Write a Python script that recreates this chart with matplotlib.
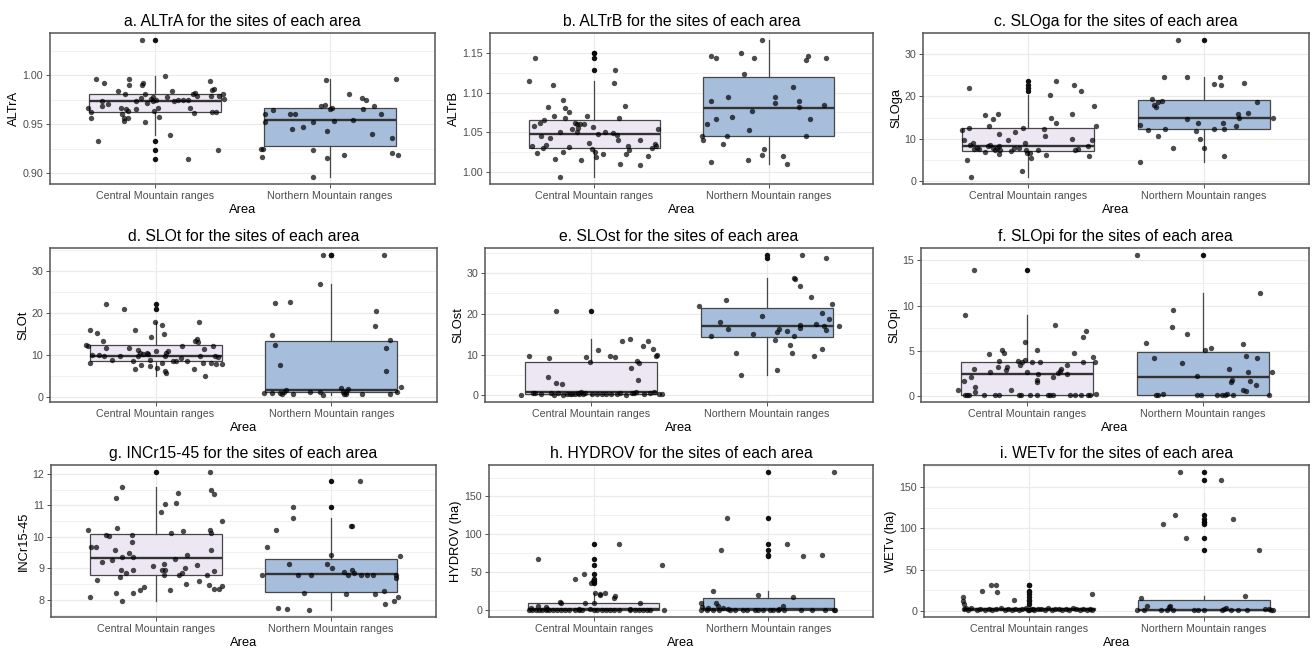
"""
Site variables by mountain area: boxplots with jittered sites (3x3 panels)
"""

import numpy as np
import matplotlib
matplotlib.use("Agg")
import matplotlib.pyplot as plt
from matplotlib.ticker import MultipleLocator, FormatStrFormatter

plt.rcParams["font.family"] = ["Liberation Sans", "DejaVu Sans"]

AREAS = ["Central Mountain ranges", "Northern Mountain ranges"]
FILLS = ["#ECE7F2", "#A6BDDB"]

# values; *_JIT = horizontal jitter of each site (category units)
# *_BOX = [q1, median, q3, lower whisker, upper whisker] per area

# a. ALTrA
ALTRA_C = [0.967, 0.962, 0.956, 0.996, 0.933, 0.974, 0.969, 0.971, 0.992, 0.984, 0.967, 0.960,
           0.956, 0.953, 0.981, 0.965, 0.956, 0.996, 0.990, 0.963, 0.974, 0.965, 0.977, 0.990,
           0.992, 1.036, 0.981, 0.952, 0.972, 0.976, 0.978, 0.974, 0.963, 0.975, 0.967, 0.957,
           0.999, 0.978, 0.939, 0.984, 0.974, 0.975, 0.975, 0.914, 0.975, 0.967, 0.981, 0.961,
           0.982, 0.979, 0.994, 0.979, 0.985, 0.962, 0.986, 0.962, 0.924, 0.979, 0.981, 0.976]
ALTRA_C_JIT = [-0.385, -0.366, -0.366, -0.335, -0.326, -0.30, -0.30, -0.27, -0.29, -0.21, -0.195, -0.19,
               -0.18, -0.175, -0.173, -0.168, -0.152, -0.15, -0.15, -0.152, -0.11, -0.11, -0.082, -0.076,
               -0.069, -0.072, -0.057, -0.057, -0.046, -0.025, -0.011, -0.011, -0.004, 0.004, 0.019, 0.023,
               0.055, 0.07, 0.086, 0.099, 0.108, 0.13, 0.16, 0.19, 0.19, 0.20, 0.217, 0.222,
               0.23, 0.24, 0.316, 0.32, 0.328, 0.324, 0.337, 0.35, 0.362, 0.366, 0.389, 0.396]
ALTRA_N = [0.925, 0.925, 0.917, 0.960, 0.952, 0.964, 0.960, 0.945, 0.960, 0.947, 0.952, 0.924,
           0.969, 0.970, 0.995, 0.943, 0.916, 0.896, 0.965, 0.967, 0.953, 0.919, 0.981, 0.954,
           0.977, 0.975, 0.965, 0.940, 0.969, 0.960, 0.936, 0.921, 0.996, 0.919]
ALTRA_N_JIT = [-0.396, -0.383, -0.387, -0.371, -0.371, -0.326, -0.229, -0.215, -0.2, -0.152, -0.10, -0.095,
               -0.05, -0.03, -0.025, -0.02, -0.02, -0.10, 0.0, 0.013, 0.023, 0.08, 0.109, 0.131,
               0.185, 0.204, 0.19, 0.238, 0.251, 0.291, 0.352, 0.352, 0.375, 0.389]
ALTRA_BOX = [[0.962, 0.974, 0.981, 0.939, 0.999], [0.928, 0.954, 0.967, 0.896, 0.996]]

# b. ALTrB
ALTRB_C = [1.114, 1.0325, 1.058, 1.143, 1.024, 1.062, 1.045, 1.030, 1.065, 1.034, 1.082, 1.043,
           1.109, 1.070, 1.017, 1.051, 1.091, 1.080, 1.068, 1.075, 1.032, 1.054, 1.026, 1.062,
           1.061, 1.051, 1.055, 1.061, 1.016, 1.061, 1.070, 1.037, 1.029, 1.057, 1.149, 1.026,
           1.019, 1.048, 1.023, 1.050, 1.049, 1.112, 1.128, 1.047, 1.041, 1.068, 1.011, 1.083,
           1.023, 1.033, 1.028, 1.041, 1.009, 1.020, 1.030, 1.036, 1.033, 1.054, 0.994]
ALTRB_C_JIT = [-0.376, -0.36, -0.345, -0.34, -0.33, -0.315, -0.305, -0.297, -0.29, -0.28, -0.266, -0.253,
               -0.24, -0.23, -0.228, -0.2, -0.18, -0.17, -0.167, -0.148, -0.145, -0.13, -0.18, -0.114,
               -0.10, -0.10, -0.095, -0.082, -0.078, -0.059, -0.044, -0.034, -0.015, -0.006, 0.0, 0.004,
               0.008, 0.023, 0.047, 0.06, 0.108, 0.114, 0.118, 0.127, 0.133, 0.142, 0.148, 0.175,
               0.184, 0.194, 0.2, 0.264, 0.26, 0.307, 0.33, 0.345, 0.355, 0.364, -0.2]
ALTRB_N = [1.045, 1.040, 1.060, 1.146, 1.089, 1.013, 1.143, 1.067, 1.035, 1.045, 1.095, 1.069,
           1.149, 1.123, 1.016, 1.053, 1.077, 1.143, 1.022, 1.029, 1.166, 1.095, 1.087, 1.021,
           1.010, 1.107, 1.090, 1.082, 1.045, 1.141, 1.146, 1.067, 1.085, 1.143]
ALTRB_N_JIT = [-0.38, -0.374, -0.351, -0.328, -0.328, -0.328, -0.304, -0.304, -0.26, -0.241, -0.235, -0.209,
               -0.161, -0.139, -0.12, -0.114, -0.095, -0.082, -0.038, -0.028, -0.038, 0.036, 0.036, 0.085,
               0.108, 0.142, 0.175, 0.175, 0.214, 0.214, 0.228, 0.237, 0.317, 0.328]
ALTRB_BOX = [[1.030, 1.048, 1.065, 0.994, 1.114], [1.045, 1.080, 1.119, 1.010, 1.166]]

# c. SLOga
SLOGA_C = [12.0, 9.7, 4.9, 21.9, 12.6, 8.5, 0.9, 9.1, 7.5, 7.9, 7.5, 6.9, 15.5, 13.0, 8.4, 14.6,
           7.3, 7.9, 15.8, 11.0, 8.3, 7.3, 6.3, 9.7, 7.1, 7.9, 11.7, 2.4, 12.6, 9.1, 7.3, 6.7,
           6.5, 5.5, 7.3, 12.2, 10.7, 6.2, 20.4, 14.8, 13.6, 23.6, 15.8, 9.9, 22.6, 7.3, 7.5, 21.4,
           8.3, 5.9, 9.7, 17.8, 13.0, 7.7, 8.3, 7.7]
SLOGA_C_JIT = [-0.377, -0.367, -0.348, -0.335, -0.335, -0.331, -0.327, -0.316, -0.312, -0.293, -0.28, -0.248,
               -0.244, -0.225, -0.217, -0.2, -0.192, -0.18, -0.173, -0.166, -0.168, -0.16, -0.166, -0.114,
               -0.1, -0.082, -0.078, -0.034, -0.029, -0.021, -0.013, -0.006, 0.01, 0.013, 0.057, 0.09,
               0.095, 0.103, 0.122, 0.128, 0.156, 0.156, 0.248, 0.251, 0.262, 0.267, 0.284, 0.3,
               0.343, 0.347, 0.366, 0.375, 0.385, -0.053, -0.229, -0.2]
SLOGA_N = [4.5, 13.3, 12.0, 19.3, 17.9, 17.4, 18.6, 19.0, 10.7, 24.5, 12.4, 7.7, 33.4, 24.5, 14.6, 11.8,
           13.8, 9.9, 7.9, 12.4, 23.0, 24.6, 22.7, 13.6, 12.2, 5.9, 13.0, 15.9, 14.8, 23.3, 16.2, 18.8, 15.0]
SLOGA_N_JIT = [-0.364, -0.362, -0.316, -0.297, -0.282, -0.272, -0.259, -0.24, -0.263, -0.229, -0.221, -0.177,
               -0.149, -0.095, -0.097, -0.044, -0.034, -0.019, 0.0, 0.057, 0.061, 0.091, 0.10, 0.109,
               0.114, 0.114, 0.185, 0.194, 0.2, 0.232, 0.255, 0.305, 0.396]
SLOGA_BOX = [[7.1, 8.3, 12.6, 0.9, 20.4], [12.2, 15.0, 19.2, 4.5, 24.6]]

# d. SLOt
SLOT_C = [12.3, 12.2, 16.0, 8.1, 9.9, 15.2, 9.9, 13.4, 9.7, 11.6, 22.1, 8.7, 9.7, 20.8, 11.5, 8.5,
          16.0, 6.7, 11.1, 9.7, 10.5, 10.1, 10.5, 10.3, 8.7, 7.3, 14.2, 17.8, 11.0, 6.9, 8.1, 17.2,
          15.0, 9.7, 6.2, 10.5, 5.7, 11.0, 8.5, 8.5, 9.3, 12.2, 6.6, 13.4, 13.8, 13.0, 17.8, 9.7,
          8.0, 11.4, 5.0, 8.1, 12.2, 9.7, 7.7, 9.5, 7.9, 8.5, 7.5]
SLOT_C_JIT = [-0.398, -0.386, -0.373, -0.371, -0.364, -0.33, -0.323, -0.3, -0.292, -0.284, -0.284, -0.246,
              -0.201, -0.182, -0.15, -0.127, -0.117, -0.114, -0.102, -0.098, -0.091, -0.07, -0.051, -0.042,
              -0.032, -0.032, -0.027, -0.004, 0.004, 0.009, 0.034, 0.038, 0.047, 0.053, 0.053, 0.059,
              0.062, 0.072, 0.1, 0.116, 0.144, 0.153, 0.216, 0.223, 0.233, 0.239, 0.248, 0.252,
              0.267, 0.273, 0.28, 0.318, 0.326, 0.337, 0.341, 0.356, 0.379, 0.176, -0.08]
SLOT_N = [0.8, 0.8, 14.6, 22.3, 12.3, 0.8, 7.5, 0.6, 1.2, 1.6, 22.5, 0.6, 1.2, 27.0, 1.0, 0.4,
          33.8, 2.0, 1.1, 0.6, 1.2, 0.6, 1.8, 0.6, 16.8, 20.5, 33.8, 11.5, 6.2, 13.6, 0.6, 1.2, 2.4]
SLOT_N_JIT = [-0.384, -0.34, -0.337, -0.322, -0.322, -0.294, -0.292, -0.28, -0.269, -0.261, -0.237, -0.218,
              -0.123, -0.066, -0.066, -0.047, -0.047, 0.057, 0.066, 0.072, 0.081, 0.085, 0.095, 0.176,
              0.246, 0.252, 0.297, 0.311, 0.311, 0.33, 0.333, 0.375, 0.394]
SLOT_BOX = [[8.4, 9.8, 12.3, 5.0, 17.8], [1.0, 1.5, 13.4, 0.4, 27.0]]

# e. SLOst
SLOST_C = [0.1, 9.6, 0.5, 0.5, 4.6, 9.1, 0.7, 0.2, 20.6, 3.0, 0.5, 2.7, 0.2, 0.4, 0.4, 0.4,
           0.5, 0.8, 0.4, 0.7, 9.4, 8.3, 0.4, 11.1, 0.4, 0.4, 9.6, 9.4, 0.4, 0.7, 13.3, 0.2,
           13.9, 6.7, 0.7, 0.8, 8.4, 3.8, 7.9, 12.1, 0.4, 13.3, 11.3, 0.8, 9.6, 10.0, 0.4, 0.4,
           0.4, 0.4, 0.3, 0.4, 0.4, 0.7, 0.7]
SLOST_C_JIT = [-0.395, -0.35, -0.33, -0.314, -0.244, -0.237, -0.226, -0.21, -0.195, -0.195, -0.184, -0.165,
               -0.16, -0.135, -0.107, -0.09, -0.075, -0.053, -0.043, -0.032, -0.026, -0.004, 0.034, 0.041,
               0.062, 0.113, 0.109, 0.135, 0.147, 0.165, 0.179, 0.197, 0.222, 0.229, 0.244, 0.254,
               0.263, 0.269, 0.274, 0.297, 0.304, 0.323, 0.353, 0.357, 0.367, 0.376, 0.386, 0.404,
               -0.282, -0.12, -0.066, 0.009, 0.085, 0.231, 0.338]
SLOST_N = [22.0, 14.5, 17.9, 23.3, 16.2, 10.5, 5.0, 15.0, 19.4, 13.5, 15.5, 6.3, 16.3, 15.9, 12.3, 10.4,
           14.6, 28.7, 28.5, 26.8, 16.6, 17.3, 34.4, 24.2, 9.6, 17.5, 20.2, 11.3, 16.9, 33.6, 16.0, 18.7,
           22.5, 17.1]
SLOST_N_JIT = [-0.389, -0.318, -0.267, -0.233, -0.225, -0.176, -0.148, -0.079, -0.032, 0.047, 0.053, 0.056,
               0.068, 0.113, 0.132, 0.143, 0.152, 0.152, 0.158, 0.184, 0.188, 0.188, 0.197, 0.246,
               0.265, 0.278, 0.31, 0.312, 0.321, 0.331, 0.335, 0.35, 0.368, 0.406]
SLOST_BOX = [[0.3, 0.9, 8.3, 0.1, 13.9], [14.4, 16.9, 21.4, 5.0, 28.7]]

# f. SLOpi
SLOPI_C = [0.7, 1.6, 0.1, 0.1, 0.1, 9.0, 2.1, 3.0, 13.9, 1.0, 0.45, 0.1, 4.6, 2.7, 0.1, 0.1,
           3.2, 3.9, 5.1, 4.8, 2.9, 3.2, 0.6, 3.9, 0.1, 3.4, 0.1, 3.7, 6.0, 4.0, 2.7, 0.1,
           3.8, 5.1, 1.8, 1.5, 0.1, 2.4, 3.7, 0.1, 0.1, 0.1, 2.1, 7.8, 2.5, 2.8, 3.0, 3.4,
           2.4, 0.1, 4.7, 0.1, 0.1, 3.7, 6.5, 7.2, 0.1, 0.1, 4.3, 3.7, 0.2]
SLOPI_C_JIT = [-0.391, -0.357, -0.353, -0.34, -0.327, -0.353, -0.314, -0.301, -0.297, -0.295, -0.291, -0.244,
               -0.212, -0.207, -0.179, -0.16, -0.164, -0.16, -0.141, -0.128, -0.117, -0.111, -0.088, -0.051,
               -0.047, -0.038, -0.032, -0.028, -0.013, -0.009, 0.0, 0.019, 0.028, 0.055, 0.055, 0.06,
               0.06, 0.066, 0.075, 0.122, 0.132, 0.147, 0.15, 0.16, 0.175, 0.188, 0.194, 0.229,
               0.229, 0.244, 0.267, 0.273, 0.305, 0.318, 0.32, 0.338, 0.348, 0.357, 0.378, 0.385, 0.395]
SLOPI_N = [15.6, 5.9, 4.2, 0.1, 0.1, 0.25, 7.6, 9.5, 3.6, 6.9, 2.2, 0.1, 0.1, 5.1, 5.3, 0.1,
           0.1, 0.1, 0.2, 3.0, 1.5, 1.8, 0.1, 5.8, 0.7, 0.5, 4.4, 2.6, 1.6, 1.2, 4.2, 11.4, 0.1, 2.6]
SLOPI_N_JIT = [-0.374, -0.327, -0.28, -0.267, -0.254, -0.229, -0.179, -0.173, -0.122, -0.092, -0.036, -0.036,
               -0.013, 0.009, 0.043, 0.077, 0.109, 0.122, 0.137, 0.147, 0.16, 0.165, 0.169, 0.227,
               0.226, 0.244, 0.244, 0.256, 0.263, 0.297, 0.305, 0.32, 0.376, 0.391]
SLOPI_BOX = [[0.1, 2.4, 3.8, 0.1, 9.0], [0.1, 2.1, 4.9, 0.1, 11.4]]

# g. INCr15-45
INCR_C = [10.21, 8.10, 9.68, 9.68, 8.63, 9.20, 10.07, 10.02, 9.25, 9.57, 11.23, 8.20, 10.27, 8.72, 8.93, 7.95,
          11.58, 9.36, 8.85, 9.47, 9.84, 10.07, 8.20, 9.36, 8.93, 8.31, 8.40, 9.06, 10.80, 8.93, 9.14, 11.05,
          8.95, 8.80, 8.31, 10.11, 9.30, 11.07, 11.39, 8.80, 8.84, 10.18, 9.02, 8.50, 9.41, 9.09, 8.61, 8.79,
          8.48, 12.06, 10.21, 11.50, 10.11, 9.57, 11.36, 8.91, 8.34, 8.34, 8.42, 10.51]
INCR_C_JIT = [-0.389, -0.379, -0.37, -0.341, -0.337, -0.308, -0.287, -0.27, -0.251, -0.232, -0.23, -0.228,
              -0.224, -0.203, -0.201, -0.192, -0.192, -0.192, -0.169, -0.155, -0.138, -0.136, -0.134, -0.13,
              -0.13, -0.092, -0.067, -0.015, 0.029, 0.036, 0.046, 0.052, 0.052, 0.048, 0.082, 0.084,
              0.109, 0.113, 0.128, 0.132, 0.149, 0.153, 0.163, 0.172, 0.176, 0.234, 0.243, 0.291,
              0.305, 0.307, 0.31, 0.314, 0.316, 0.316, 0.333, 0.333, 0.333, 0.358, 0.377, 0.379]
INCR_N = [8.80, 9.66, 7.75, 10.21, 7.70, 9.12, 10.96, 10.59, 8.77, 8.20, 7.67, 8.77, 9.14, 9.41, 9.02, 8.88,
          8.79, 10.35, 10.35, 8.95, 8.84, 8.18, 11.76, 8.80, 8.80, 8.77, 8.18, 8.29, 7.86, 7.95, 8.77, 8.70,
          8.10, 9.39]
INCR_N_JIT = [-0.397, -0.364, -0.303, -0.316, -0.253, -0.239, -0.216, -0.215, -0.188, -0.157, -0.124, -0.115,
              -0.023, 0.0, 0.006, 0.077, 0.096, 0.115, 0.121, 0.121, 0.13, 0.086, 0.163, 0.172,
              0.207, 0.239, 0.253, 0.303, 0.31, 0.36, 0.37, 0.37, 0.383, 0.397]
INCR_BOX = [[8.80, 9.33, 10.08, 7.95, 11.58], [8.23, 8.82, 9.30, 7.67, 10.59]]

# h. HYDROV (ha)
HYDROV_C = [0.0, 0.5, 0.0, 0.0, 0.5, 0.0, 0.0, 0.5, 0.0, 0.0, 0.5, 0.0, 0.0, 0.5, 0.0, 0.5,
            0.0, 0.0, 0.5, 0.0, 0.0, 0.5, 0.0, 0.0, 0.5, 0.0, 0.5, 0.0, 0.0,
            2.7, 4.9, 3.6, 1.3, 10.2, 9.3, 9.3, 9.3, 21.3, 22.2, 20.0, 22.2, 15.5, 19.1, 9.3, 1.3,
            1.3, 1.3, 67.9, 41.3, 47.0, 87.9, 59.0, 38.2, 36.0]
HYDROV_C_JIT = [-0.368, -0.352, -0.333, -0.314, -0.295, -0.276, -0.257, -0.234, -0.21, -0.185, -0.162, -0.139,
                -0.105, -0.086, -0.067, 0.0, 0.019, 0.048, 0.072, 0.091, 0.114, 0.143, 0.21, 0.234,
                0.257, 0.28, 0.305, 0.32, 0.402,
                -0.362, -0.318, -0.272, -0.267, -0.196, -0.185, -0.048, 0.0, 0.038, 0.01, 0.034, 0.063,
                0.118, 0.124, 0.263, -0.086, -0.019, 0.21, -0.318, -0.105, -0.057, 0.143, 0.39, -0.006, -0.013]
HYDROV_N = [0.0, 0.0, 0.5, 0.0, 0.0, 0.5, 0.0, 0.0, 0.0, 0.5, 0.0, 0.0, 0.5, 0.0, 0.0, 0.0,
            0.5, 0.0, 0.0, 0.0, 8.9, 3.6, 2.2, 9.3, 5.8, 2.2, 1.3, 25.7, 20.4, 5.8, 17.8, 1.3,
            79.9, 122.1, 86.6, 71.5, 72.3, 182.4]
HYDROV_N_JIT = [-0.384, -0.35, -0.314, -0.283, -0.22, -0.19, -0.143, -0.12, -0.076, -0.057, -0.03, 0.01,
                0.028, 0.057, 0.09, 0.188, 0.25, 0.325, 0.377, 0.383, -0.387, -0.381, -0.343, -0.299,
                -0.286, -0.261, -0.232, -0.318, -0.057, 0.082, 0.139, 0.063,
                -0.272, -0.236, 0.105, 0.2, 0.31, 0.377]
HYDROV_BOX = [[0.0, 1.0, 9.5, 0.0, 22.2], [0.0, 1.3, 16.0, 0.0, 25.7]]

# i. WETv (ha)
WETV_C = [2.5, 1.5, 3.0, 1.0, 2.0, 1.5, 2.5, 1.0, 2.0, 3.0, 1.5, 2.0, 1.0, 2.5, 1.5, 2.0,
          3.5, 1.0, 2.0, 1.5, 2.5, 2.0, 1.0, 3.0, 1.5, 2.0, 2.5, 1.0, 2.0, 1.5, 3.0, 2.0,
          1.0, 2.5, 1.5, 2.0, 1.0, 3.0, 2.0, 1.5,
          16.5, 12.0, 8.5, 24.5, 31.3, 31.3, 23.2, 13.4, 20.4]
WETV_C_JIT = [-0.37, -0.35, -0.33, -0.30, -0.28, -0.25, -0.23, -0.21, -0.19, -0.16, -0.14, -0.12,
              -0.10, -0.08, -0.06, -0.04, -0.02, 0.0, 0.02, 0.03, 0.05, 0.07, 0.09, 0.11,
              0.13, 0.15, 0.17, 0.19, 0.21, 0.23, 0.25, 0.27, 0.29, 0.31, 0.33, 0.35,
              0.36, -0.36, 0.01, -0.005,
              -0.38, -0.378, -0.372, -0.27, -0.218, -0.188, -0.184, -0.084, 0.36]
WETV_N = [0.8, 15.5, 0.8, 6.1, 0.8, 0.8, 4.1, 6.1, 0.8, 0.8, 0.8, 0.8, 2.0, 3.3, 0.8, 0.8,
          18.3, 0.8, 2.0, 2.0, 0.8, 0.8, 0.8,
          104.8, 116.2, 168.4, 88.5, 159.0, 110.9, 74.2, 108.0]
WETV_N_JIT = [-0.385, -0.36, -0.345, -0.323, -0.243, -0.214, -0.2, -0.193, -0.175, -0.057, -0.034, 0.104,
              0.114, 0.127, 0.157, 0.194, 0.233, 0.243, 0.351, 0.37, 0.385, 0.393, 0.0,
              -0.233, -0.165, -0.137, -0.101, 0.097, 0.167, 0.317, 0.0]
WETV_BOX = [[1.5, 2.0, 3.0, 1.0, 3.5], [0.8, 0.8, 13.5, 0.8, 18.3]]

# title, y label, data, box stats, major y step, tick format
PANELS = [
    ("a. ALTrA", "ALTrA", ALTRA_C, ALTRA_C_JIT, ALTRA_N, ALTRA_N_JIT, ALTRA_BOX, 0.05, "%.2f"),
    ("b. ALTrB", "ALTrB", ALTRB_C, ALTRB_C_JIT, ALTRB_N, ALTRB_N_JIT, ALTRB_BOX, 0.05, "%.2f"),
    ("c. SLOga", "SLOga", SLOGA_C, SLOGA_C_JIT, SLOGA_N, SLOGA_N_JIT, SLOGA_BOX, 10, "%d"),
    ("d. SLOt", "SLOt", SLOT_C, SLOT_C_JIT, SLOT_N, SLOT_N_JIT, SLOT_BOX, 10, "%d"),
    ("e. SLOst", "SLOst", SLOST_C, SLOST_C_JIT, SLOST_N, SLOST_N_JIT, SLOST_BOX, 10, "%d"),
    ("f. SLOpi", "SLOpi", SLOPI_C, SLOPI_C_JIT, SLOPI_N, SLOPI_N_JIT, SLOPI_BOX, 5, "%d"),
    ("g. INCr15-45", "INCr15-45", INCR_C, INCR_C_JIT, INCR_N, INCR_N_JIT, INCR_BOX, 1, "%d"),
    ("h. HYDROV", "HYDROV (ha)", HYDROV_C, HYDROV_C_JIT, HYDROV_N, HYDROV_N_JIT, HYDROV_BOX, 50, "%d"),
    ("i. WETv", "WETv (ha)", WETV_C, WETV_C_JIT, WETV_N, WETV_N_JIT, WETV_BOX, 50, "%d"),
]

# axes frames in pixels (left, top, right, bottom)
W, H = 1312, 648
RECTS = [(50, 33, 435, 184), (490, 33, 873, 184), (923, 33, 1309, 184),
         (50, 248, 437, 402), (485, 248, 873, 402), (921, 248, 1309, 402),
         (51, 465, 436, 617), (489, 465, 873, 617), (924, 465, 1309, 617)]

EDGE = "#333333"
BORDER = "#555555"
BOXLINE = "#474747"
GRID = "#EBEBEB"
TICK_TXT = "#4D4D4D"


def draw_panel(ax, title, ylabel, c, cj, n, nj, box, step, fmt):
    groups = [(np.asarray(c), np.asarray(cj)), (np.asarray(n), np.asarray(nj))]
    stats = []
    for (vals, _), (q1, med, q3, lo, hi) in zip(groups, box):
        stats.append(dict(q1=q1, med=med, q3=q3, whislo=lo, whishi=hi,
                          fliers=vals[(vals < lo) | (vals > hi)]))
    bp = ax.bxp(stats, positions=[1, 2], widths=0.75, patch_artist=True,
                showcaps=False, manage_ticks=False,
                boxprops=dict(edgecolor=BOXLINE, linewidth=0.9),
                medianprops=dict(color=EDGE, linewidth=1.7, solid_capstyle="butt"),
                whiskerprops=dict(color=BOXLINE, linewidth=0.9),
                flierprops=dict(marker="o", markerfacecolor="#111111",
                                markeredgecolor="none", markersize=3.9),
                zorder=2)
    for patch, fill in zip(bp["boxes"], FILLS):
        patch.set_facecolor(fill)

    for k, (vals, jit) in enumerate(groups):
        assert len(vals) == len(jit), title
        ax.scatter(k + 1 + jit, vals, s=15, color="black", alpha=0.7,
                   linewidths=0, zorder=3)

    allv = np.concatenate([groups[0][0], groups[1][0]])
    lo, hi = allv.min(), allv.max()
    pad = 0.05 * (hi - lo)
    ax.set_ylim(lo - pad, hi + pad)
    ax.set_xlim(0.4, 2.6)

    ax.set_xticks([1, 2])
    ax.set_xticklabels(AREAS)
    ax.yaxis.set_major_locator(MultipleLocator(step))
    ax.yaxis.set_minor_locator(MultipleLocator(step / 2))
    ax.yaxis.set_major_formatter(FormatStrFormatter(fmt))

    ax.set_axisbelow(True)
    ax.grid(True, which="major", color=GRID, linewidth=0.9)
    ax.grid(True, which="minor", axis="y", color=GRID, linewidth=0.5)
    ax.tick_params(which="major", direction="out", length=2.75, width=0.6,
                   color=EDGE, labelcolor=TICK_TXT, labelsize=7.7, pad=2.2)
    ax.tick_params(which="minor", length=0)
    for sp in ax.spines.values():
        sp.set_color(BORDER)
        sp.set_linewidth(1.1)

    ax.set_title(f"{title} for the sites of each area", fontsize=11.3, pad=5)
    ax.set_xlabel("Area", fontsize=9.3, labelpad=2)
    ax.set_ylabel(ylabel, fontsize=9.3, labelpad=1.5)


fig = plt.figure(figsize=(W / 100, H / 100), dpi=100)
for (l, t, r, b), panel in zip(RECTS, PANELS):
    ax = fig.add_axes([l / W, 1 - b / H, (r - l) / W, (b - t) / H])
    draw_panel(ax, *panel)

fig.savefig("out.png", dpi=100, facecolor="white")
